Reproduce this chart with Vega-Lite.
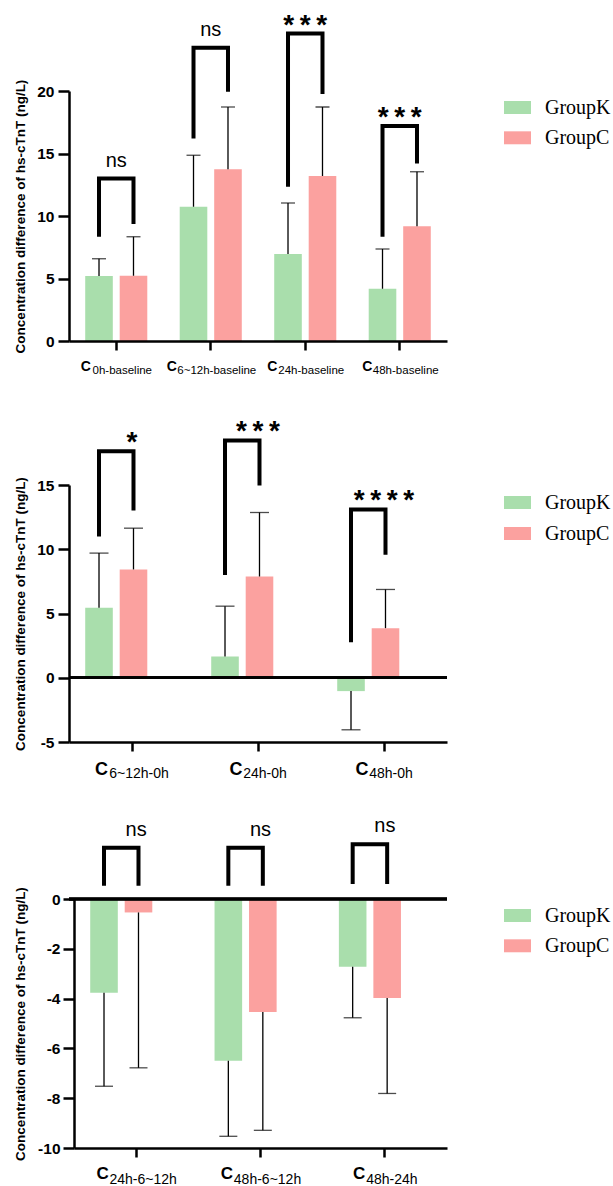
{
  "$schema": "https://vega.github.io/schema/vega-lite/v6.json",
  "autosize": {"type": "none"},
  "padding": {"left": 69, "top": 91, "right": 544, "bottom": 1095},
  "bounds": "flush",
  "spacing": 144,
  "background": "white",
  "config": {"view": {"stroke": null}, "font": "Liberation Sans"},
  "resolve": {"scale": {"color": "independent"}},
  "datasets": {
    "b1": [
      {"cat": "0h-baseline", "group": "GroupK", "mean": 5.2, "cap": 6.58},
      {"cat": "0h-baseline", "group": "GroupC", "mean": 5.22, "cap": 8.34},
      {"cat": "6~12h-baseline", "group": "GroupK", "mean": 10.74, "cap": 14.86},
      {"cat": "6~12h-baseline", "group": "GroupC", "mean": 13.74, "cap": 18.72},
      {"cat": "24h-baseline", "group": "GroupK", "mean": 6.96, "cap": 11.04},
      {"cat": "24h-baseline", "group": "GroupC", "mean": 13.2, "cap": 18.72},
      {"cat": "48h-baseline", "group": "GroupK", "mean": 4.18, "cap": 7.36},
      {"cat": "48h-baseline", "group": "GroupC", "mean": 9.18, "cap": 13.54}
    ],
    "k1": [
      {"cat": "0h-baseline", "group": "GroupK", "v": 8.35, "pt": 0},
      {"cat": "0h-baseline", "group": "GroupK", "v": 13.0, "pt": 1},
      {"cat": "0h-baseline", "group": "GroupC", "v": 13.0, "pt": 2},
      {"cat": "0h-baseline", "group": "GroupC", "v": 9.36, "pt": 3},
      {"cat": "6~12h-baseline", "group": "GroupK", "v": 16.2, "pt": 0},
      {"cat": "6~12h-baseline", "group": "GroupK", "v": 23.46, "pt": 1},
      {"cat": "6~12h-baseline", "group": "GroupC", "v": 23.46, "pt": 2},
      {"cat": "6~12h-baseline", "group": "GroupC", "v": 19.94, "pt": 3},
      {"cat": "24h-baseline", "group": "GroupK", "v": 12.35, "pt": 0},
      {"cat": "24h-baseline", "group": "GroupK", "v": 24.6, "pt": 1},
      {"cat": "24h-baseline", "group": "GroupC", "v": 24.6, "pt": 2},
      {"cat": "24h-baseline", "group": "GroupC", "v": 19.76, "pt": 3},
      {"cat": "48h-baseline", "group": "GroupK", "v": 8.35, "pt": 0},
      {"cat": "48h-baseline", "group": "GroupK", "v": 17.2, "pt": 1},
      {"cat": "48h-baseline", "group": "GroupC", "v": 17.2, "pt": 2},
      {"cat": "48h-baseline", "group": "GroupC", "v": 14.2, "pt": 3}
    ],
    "s1": [
      {"cat": "0h-baseline", "top": 13.0, "sig": "ns"},
      {"cat": "6~12h-baseline", "top": 23.46, "sig": "ns"},
      {"cat": "24h-baseline", "top": 24.6, "sig": "*\u2009*\u2009*"},
      {"cat": "48h-baseline", "top": 17.2, "sig": "*\u2009*\u2009*"}
    ],
    "b2": [
      {"cat": "6~12h-0h", "group": "GroupK", "mean": 5.45, "cap": 9.7},
      {"cat": "6~12h-0h", "group": "GroupC", "mean": 8.43, "cap": 11.64},
      {"cat": "24h-0h", "group": "GroupK", "mean": 1.66, "cap": 5.57},
      {"cat": "24h-0h", "group": "GroupC", "mean": 7.88, "cap": 12.86},
      {"cat": "48h-0h", "group": "GroupK", "mean": -1.04, "cap": -4.05},
      {"cat": "48h-0h", "group": "GroupC", "mean": 3.86, "cap": 6.87}
    ],
    "k2": [
      {"cat": "6~12h-0h", "group": "GroupK", "v": 11.0, "pt": 0},
      {"cat": "6~12h-0h", "group": "GroupK", "v": 17.63, "pt": 1},
      {"cat": "6~12h-0h", "group": "GroupC", "v": 17.63, "pt": 2},
      {"cat": "6~12h-0h", "group": "GroupC", "v": 13.02, "pt": 3},
      {"cat": "24h-0h", "group": "GroupK", "v": 8.0, "pt": 0},
      {"cat": "24h-0h", "group": "GroupK", "v": 18.47, "pt": 1},
      {"cat": "24h-0h", "group": "GroupC", "v": 18.47, "pt": 2},
      {"cat": "24h-0h", "group": "GroupC", "v": 14.96, "pt": 3},
      {"cat": "48h-0h", "group": "GroupK", "v": 2.77, "pt": 0},
      {"cat": "48h-0h", "group": "GroupK", "v": 13.1, "pt": 1},
      {"cat": "48h-0h", "group": "GroupC", "v": 13.1, "pt": 2},
      {"cat": "48h-0h", "group": "GroupC", "v": 9.57, "pt": 3}
    ],
    "s2": [
      {"cat": "6~12h-0h", "top": 17.63, "sig": "*"},
      {"cat": "24h-0h", "top": 18.47, "sig": "*\u2009*\u2009*"},
      {"cat": "48h-0h", "top": 13.1, "sig": "*\u2009*\u2009*\u2009*"}
    ],
    "b3": [
      {"cat": "24h-6~12h", "group": "GroupK", "mean": -3.77, "cap": -7.52},
      {"cat": "24h-6~12h", "group": "GroupC", "mean": -0.54, "cap": -6.78},
      {"cat": "48h-6~12h", "group": "GroupK", "mean": -6.5, "cap": -9.53},
      {"cat": "48h-6~12h", "group": "GroupC", "mean": -4.54, "cap": -9.29},
      {"cat": "48h-24h", "group": "GroupK", "mean": -2.72, "cap": -4.77},
      {"cat": "48h-24h", "group": "GroupC", "mean": -3.98, "cap": -7.81}
    ],
    "k3": [
      {"cat": "24h-6~12h", "group": "GroupK", "v": 0.53, "pt": 0},
      {"cat": "24h-6~12h", "group": "GroupK", "v": 2.06, "pt": 1},
      {"cat": "24h-6~12h", "group": "GroupC", "v": 2.06, "pt": 2},
      {"cat": "24h-6~12h", "group": "GroupC", "v": 0.53, "pt": 3},
      {"cat": "48h-6~12h", "group": "GroupK", "v": 0.53, "pt": 0},
      {"cat": "48h-6~12h", "group": "GroupK", "v": 2.06, "pt": 1},
      {"cat": "48h-6~12h", "group": "GroupC", "v": 2.06, "pt": 2},
      {"cat": "48h-6~12h", "group": "GroupC", "v": 0.53, "pt": 3},
      {"cat": "48h-24h", "group": "GroupK", "v": 0.6, "pt": 0},
      {"cat": "48h-24h", "group": "GroupK", "v": 2.2, "pt": 1},
      {"cat": "48h-24h", "group": "GroupC", "v": 2.2, "pt": 2},
      {"cat": "48h-24h", "group": "GroupC", "v": 0.6, "pt": 3}
    ],
    "s3": [
      {"cat": "24h-6~12h", "top": 2.06, "sig": "ns"},
      {"cat": "48h-6~12h", "top": 2.06, "sig": "ns"},
      {"cat": "48h-24h", "top": 2.2, "sig": "ns"}
    ]
  },
  "vconcat": [
    {
      "width": 378,
      "height": 250,
      "layer": [
        {
          "data": {"name": "b1"},
          "mark": {"type": "bar"},
          "encoding": {
            "x": {"field": "cat", "type": "nominal", "sort": null,
              "scale": {"domain": ["0h-baseline", "6~12h-baseline", "24h-baseline", "48h-baseline"], "paddingInner": 0, "paddingOuter": 0},
              "axis": {"title": null, "labels": false, "domainWidth": 2.5, "domainColor": "black", "tickWidth": 2.5, "tickColor": "black", "tickSize": 9, "zindex": 1}},
            "xOffset": {"field": "group", "type": "nominal", "scale": {"domain": ["GroupK", "GroupC"], "paddingInner": 0.2, "paddingOuter": 0.47}},
            "y": {"field": "mean", "type": "quantitative",
              "scale": {"domain": [0, 20], "nice": false, "zero": false},
              "axis": {"values": [0, 5, 10, 15, 20], "labelExpr": "'' + datum.value", "grid": false, "title": "Concentration difference of hs-cTnT (ng/L)",
                "titleFont": "Liberation Sans", "titleFontSize": 13.5, "titleFontWeight": "bold", "titleColor": "black", "titleAngle": -90, "titleBaseline": "middle", "titleX": -49,
                "labelFont": "Liberation Sans", "labelFontSize": 15.5, "labelFontWeight": "bold", "labelColor": "black", "labelPadding": 4,
                "tickSize": 11, "tickWidth": 2.5, "tickColor": "black", "domainWidth": 2.5, "domainColor": "black", "zindex": 1}},
            "color": {"field": "group", "type": "nominal",
              "scale": {"domain": ["GroupK", "GroupC"], "range": ["#a9deac", "#fba19f"]},
              "legend": {"orient": "none", "legendX": 435, "legendY": 3, "direction": "vertical", "title": null,
                "symbolType": "M-1,-0.48H1V0.48H-1Z", "symbolSize": 729, "symbolStrokeWidth": 0, "symbolOpacity": 1,
                "labelFont": "Liberation Serif", "labelFontSize": 20, "labelColor": "black", "labelOffset": 14, "rowPadding": 6.3}}
          }
        },
        {
          "data": {"name": "b1"},
          "mark": {"type": "rule", "color": "black", "strokeWidth": 1.3},
          "encoding": {
            "x": {"field": "cat", "type": "nominal"},
            "xOffset": {"field": "group", "type": "nominal"},
            "y": {"field": "mean", "type": "quantitative"},
            "y2": {"field": "cap"}
          }
        },
        {
          "data": {"name": "b1"},
          "mark": {"type": "tick", "color": "black", "thickness": 1.3, "size": 14, "orient": "horizontal"},
          "encoding": {
            "x": {"field": "cat", "type": "nominal"},
            "xOffset": {"field": "group", "type": "nominal"},
            "y": {"field": "cap", "type": "quantitative"}
          }
        },
        {
          "data": {"name": "k1"},
          "mark": {"type": "line", "color": "black", "strokeWidth": 4, "strokeJoin": "miter", "strokeCap": "butt"},
          "encoding": {
            "x": {"field": "cat", "type": "nominal"},
            "xOffset": {"field": "group", "type": "nominal"},
            "y": {"field": "v", "type": "quantitative"},
            "detail": {"field": "cat"},
            "order": {"field": "pt", "type": "quantitative"}
          }
        },
        {
          "data": {"name": "s1"},
          "transform": [{"filter": "datum.sig == 'ns'"}],
          "mark": {"type": "text", "font": "Liberation Sans", "fontSize": 20, "baseline": "alphabetic", "dy": -11.5, "color": "black"},
          "encoding": {
            "x": {"field": "cat", "type": "nominal"},
            "y": {"field": "top", "type": "quantitative"},
            "text": {"field": "sig"}
          }
        },
        {
          "data": {"name": "s1"},
          "transform": [{"filter": "datum.sig != 'ns'"}],
          "mark": {"type": "text", "font": "Liberation Sans", "fontSize": 28, "fontWeight": "bold", "baseline": "alphabetic", "dy": 0, "color": "black"},
          "encoding": {
            "x": {"field": "cat", "type": "nominal"},
            "y": {"field": "top", "type": "quantitative"},
            "text": {"field": "sig"}
          }
        },
        {
          "data": {"name": "s1"},
          "mark": {"type": "text", "font": "Liberation Sans", "fontSize": 11.5, "align": "center", "baseline": "alphabetic", "dx": 6, "dy": 32.5, "color": "black"},
          "encoding": {
            "x": {"field": "cat", "type": "nominal"},
            "y": {"datum": 0},
            "text": {"field": "cat"}
          }
        },
        {
          "data": {"name": "s1"},
          "transform": [{"filter": "datum.cat == '0h-baseline'"}],
          "mark": {"type": "text", "font": "Liberation Sans", "fontSize": 14, "fontWeight": "bold", "align": "right", "baseline": "alphabetic", "dx": -25.5, "dy": 30, "color": "black"},
          "encoding": {"x": {"field": "cat", "type": "nominal"}, "y": {"datum": 0}, "text": {"value": "C"}}
        },
        {
          "data": {"name": "s1"},
          "transform": [{"filter": "datum.cat == '6~12h-baseline'"}],
          "mark": {"type": "text", "font": "Liberation Sans", "fontSize": 14, "fontWeight": "bold", "align": "right", "baseline": "alphabetic", "dx": -34, "dy": 30, "color": "black"},
          "encoding": {"x": {"field": "cat", "type": "nominal"}, "y": {"datum": 0}, "text": {"value": "C"}}
        },
        {
          "data": {"name": "s1"},
          "transform": [{"filter": "datum.cat == '24h-baseline'"}],
          "mark": {"type": "text", "font": "Liberation Sans", "fontSize": 14, "fontWeight": "bold", "align": "right", "baseline": "alphabetic", "dx": -28, "dy": 30, "color": "black"},
          "encoding": {"x": {"field": "cat", "type": "nominal"}, "y": {"datum": 0}, "text": {"value": "C"}}
        },
        {
          "data": {"name": "s1"},
          "transform": [{"filter": "datum.cat == '48h-baseline'"}],
          "mark": {"type": "text", "font": "Liberation Sans", "fontSize": 14, "fontWeight": "bold", "align": "right", "baseline": "alphabetic", "dx": -27.5, "dy": 30, "color": "black"},
          "encoding": {"x": {"field": "cat", "type": "nominal"}, "y": {"datum": 0}, "text": {"value": "C"}}
        }
      ]
    },
    {
      "width": 378,
      "height": 257,
      "layer": [
        {
          "data": {"name": "b2"},
          "mark": {"type": "bar"},
          "encoding": {
            "x": {"field": "cat", "type": "nominal", "sort": null,
              "scale": {"domain": ["6~12h-0h", "24h-0h", "48h-0h"], "paddingInner": 0, "paddingOuter": 0},
              "axis": {"title": null, "labels": false, "domainWidth": 2.5, "domainColor": "black", "tickWidth": 2.5, "tickColor": "black", "tickSize": 9, "zindex": 1}},
            "xOffset": {"field": "group", "type": "nominal", "scale": {"domain": ["GroupK", "GroupC"], "paddingInner": 0.2, "paddingOuter": 0.47}},
            "y": {"field": "mean", "type": "quantitative",
              "scale": {"domain": [-5, 15], "nice": false, "zero": false},
              "axis": {"values": [-5, 0, 5, 10, 15], "labelExpr": "'' + datum.value", "grid": false, "title": "Concentration difference of hs-cTnT (ng/L)",
                "titleFont": "Liberation Sans", "titleFontSize": 13.5, "titleFontWeight": "bold", "titleColor": "black", "titleAngle": -90, "titleBaseline": "middle", "titleX": -49,
                "labelFont": "Liberation Sans", "labelFontSize": 15.5, "labelFontWeight": "bold", "labelColor": "black", "labelPadding": 4,
                "tickSize": 11, "tickWidth": 2.5, "tickColor": "black", "domainWidth": 2.5, "domainColor": "black", "zindex": 1}},
            "color": {"field": "group", "type": "nominal",
              "scale": {"domain": ["GroupK", "GroupC"], "range": ["#a9deac", "#fba19f"]},
              "legend": {"orient": "none", "legendX": 435, "legendY": 4, "direction": "vertical", "title": null,
                "symbolType": "M-1,-0.48H1V0.48H-1Z", "symbolSize": 729, "symbolStrokeWidth": 0, "symbolOpacity": 1,
                "labelFont": "Liberation Serif", "labelFontSize": 20, "labelColor": "black", "labelOffset": 14, "rowPadding": 7}}
          }
        },
        {
          "data": {"name": "b2"},
          "mark": {"type": "rule", "color": "black", "strokeWidth": 2.5},
          "encoding": {"y": {"datum": 0}}
        },
        {
          "data": {"name": "b2"},
          "mark": {"type": "rule", "color": "black", "strokeWidth": 1.3},
          "encoding": {
            "x": {"field": "cat", "type": "nominal"},
            "xOffset": {"field": "group", "type": "nominal"},
            "y": {"field": "mean", "type": "quantitative"},
            "y2": {"field": "cap"}
          }
        },
        {
          "data": {"name": "b2"},
          "mark": {"type": "tick", "color": "black", "thickness": 1.3, "size": 19, "orient": "horizontal"},
          "encoding": {
            "x": {"field": "cat", "type": "nominal"},
            "xOffset": {"field": "group", "type": "nominal"},
            "y": {"field": "cap", "type": "quantitative"}
          }
        },
        {
          "data": {"name": "k2"},
          "mark": {"type": "line", "color": "black", "strokeWidth": 4, "strokeJoin": "miter", "strokeCap": "butt"},
          "encoding": {
            "x": {"field": "cat", "type": "nominal"},
            "xOffset": {"field": "group", "type": "nominal"},
            "y": {"field": "v", "type": "quantitative"},
            "detail": {"field": "cat"},
            "order": {"field": "pt", "type": "quantitative"}
          }
        },
        {
          "data": {"name": "s2"},
          "mark": {"type": "text", "font": "Liberation Sans", "fontSize": 28, "fontWeight": "bold", "baseline": "alphabetic", "dy": 0, "color": "black"},
          "encoding": {
            "x": {"field": "cat", "type": "nominal"},
            "y": {"field": "top", "type": "quantitative"},
            "text": {"field": "sig"}
          }
        },
        {
          "data": {"name": "s2"},
          "mark": {"type": "text", "font": "Liberation Sans", "fontSize": 14, "align": "center", "baseline": "alphabetic", "dx": 7, "dy": 36, "color": "black"},
          "encoding": {
            "x": {"field": "cat", "type": "nominal"},
            "y": {"datum": -5},
            "text": {"field": "cat"}
          }
        },
        {
          "data": {"name": "s2"},
          "transform": [{"filter": "datum.cat == '6~12h-0h'"}],
          "mark": {"type": "text", "font": "Liberation Sans", "fontSize": 18, "fontWeight": "bold", "align": "right", "baseline": "alphabetic", "dx": -24, "dy": 32.5, "color": "black"},
          "encoding": {"x": {"field": "cat", "type": "nominal"}, "y": {"datum": -5}, "text": {"value": "C"}}
        },
        {
          "data": {"name": "s2"},
          "transform": [{"filter": "datum.cat != '6~12h-0h'"}],
          "mark": {"type": "text", "font": "Liberation Sans", "fontSize": 18, "fontWeight": "bold", "align": "right", "baseline": "alphabetic", "dx": -15.5, "dy": 32.5, "color": "black"},
          "encoding": {"x": {"field": "cat", "type": "nominal"}, "y": {"datum": -5}, "text": {"value": "C"}}
        }
      ]
    },
    {
      "width": 378,
      "height": 262,
      "layer": [
        {
          "data": {"name": "b3"},
          "mark": {"type": "bar"},
          "encoding": {
            "x": {"field": "cat", "type": "nominal", "sort": null,
              "scale": {"domain": ["24h-6~12h", "48h-6~12h", "48h-24h"], "range": [5, 378], "paddingInner": 0, "paddingOuter": 0},
              "axis": {"title": null, "labels": false, "domainWidth": 2.5, "domainColor": "black", "tickWidth": 2.5, "tickColor": "black", "tickSize": 9, "zindex": 1}},
            "xOffset": {"field": "group", "type": "nominal", "scale": {"domain": ["GroupK", "GroupC"], "paddingInner": 0.2, "paddingOuter": 0.47}},
            "y": {"field": "mean", "type": "quantitative",
              "scale": {"domain": [-10, 0], "range": [262, 13], "nice": false, "zero": false},
              "axis": {"values": [-10, -8, -6, -4, -2, 0], "labelExpr": "'' + datum.value", "grid": false, "offset": -5, "title": "Concentration difference of hs-cTnT (ng/L)",
                "titleFont": "Liberation Sans", "titleFontSize": 13.5, "titleFontWeight": "bold", "titleColor": "black", "titleAngle": -90, "titleBaseline": "middle", "titleX": -54,
                "labelFont": "Liberation Sans", "labelFontSize": 15.5, "labelFontWeight": "bold", "labelColor": "black", "labelPadding": 3,
                "tickSize": 11, "tickWidth": 2.5, "tickColor": "black", "domainWidth": 2.5, "domainColor": "black", "zindex": 1}},
            "color": {"field": "group", "type": "nominal",
              "scale": {"domain": ["GroupK", "GroupC"], "range": ["#a9deac", "#fba19f"]},
              "legend": {"orient": "none", "legendX": 435, "legendY": 16, "direction": "vertical", "title": null,
                "symbolType": "M-1,-0.48H1V0.48H-1Z", "symbolSize": 729, "symbolStrokeWidth": 0, "symbolOpacity": 1,
                "labelFont": "Liberation Serif", "labelFontSize": 20, "labelColor": "black", "labelOffset": 14, "rowPadding": 6.3}}
          }
        },
        {
          "data": {"name": "b3"},
          "mark": {"type": "rule", "color": "black", "strokeWidth": 2.5},
          "encoding": {"y": {"datum": 0}}
        },
        {
          "data": {"name": "b3"},
          "mark": {"type": "rule", "color": "black", "strokeWidth": 1.3},
          "encoding": {
            "x": {"field": "cat", "type": "nominal"},
            "xOffset": {"field": "group", "type": "nominal"},
            "y": {"field": "mean", "type": "quantitative"},
            "y2": {"field": "cap"}
          }
        },
        {
          "data": {"name": "b3"},
          "mark": {"type": "tick", "color": "black", "thickness": 1.3, "size": 18, "orient": "horizontal"},
          "encoding": {
            "x": {"field": "cat", "type": "nominal"},
            "xOffset": {"field": "group", "type": "nominal"},
            "y": {"field": "cap", "type": "quantitative"}
          }
        },
        {
          "data": {"name": "k3"},
          "mark": {"type": "line", "color": "black", "strokeWidth": 4, "strokeJoin": "miter", "strokeCap": "butt"},
          "encoding": {
            "x": {"field": "cat", "type": "nominal"},
            "xOffset": {"field": "group", "type": "nominal"},
            "y": {"field": "v", "type": "quantitative"},
            "detail": {"field": "cat"},
            "order": {"field": "pt", "type": "quantitative"}
          }
        },
        {
          "data": {"name": "s3"},
          "mark": {"type": "text", "font": "Liberation Sans", "fontSize": 20, "baseline": "alphabetic", "dy": -12, "color": "black"},
          "encoding": {
            "x": {"field": "cat", "type": "nominal"},
            "y": {"field": "top", "type": "quantitative"},
            "text": {"field": "sig"}
          }
        },
        {
          "data": {"name": "s3"},
          "mark": {"type": "text", "font": "Liberation Sans", "fontSize": 14, "align": "center", "baseline": "alphabetic", "dx": 7, "dy": 35.5, "color": "black"},
          "encoding": {
            "x": {"field": "cat", "type": "nominal"},
            "y": {"datum": -10},
            "text": {"field": "cat"}
          }
        },
        {
          "data": {"name": "s3"},
          "transform": [{"filter": "datum.cat != '48h-24h'"}],
          "mark": {"type": "text", "font": "Liberation Sans", "fontSize": 17, "fontWeight": "bold", "align": "right", "baseline": "alphabetic", "dx": -27.5, "dy": 31, "color": "black"},
          "encoding": {"x": {"field": "cat", "type": "nominal"}, "y": {"datum": -10}, "text": {"value": "C"}}
        },
        {
          "data": {"name": "s3"},
          "transform": [{"filter": "datum.cat == '48h-24h'"}],
          "mark": {"type": "text", "font": "Liberation Sans", "fontSize": 17, "fontWeight": "bold", "align": "right", "baseline": "alphabetic", "dx": -19.5, "dy": 31, "color": "black"},
          "encoding": {"x": {"field": "cat", "type": "nominal"}, "y": {"datum": -10}, "text": {"value": "C"}}
        }
      ]
    }
  ]
}
